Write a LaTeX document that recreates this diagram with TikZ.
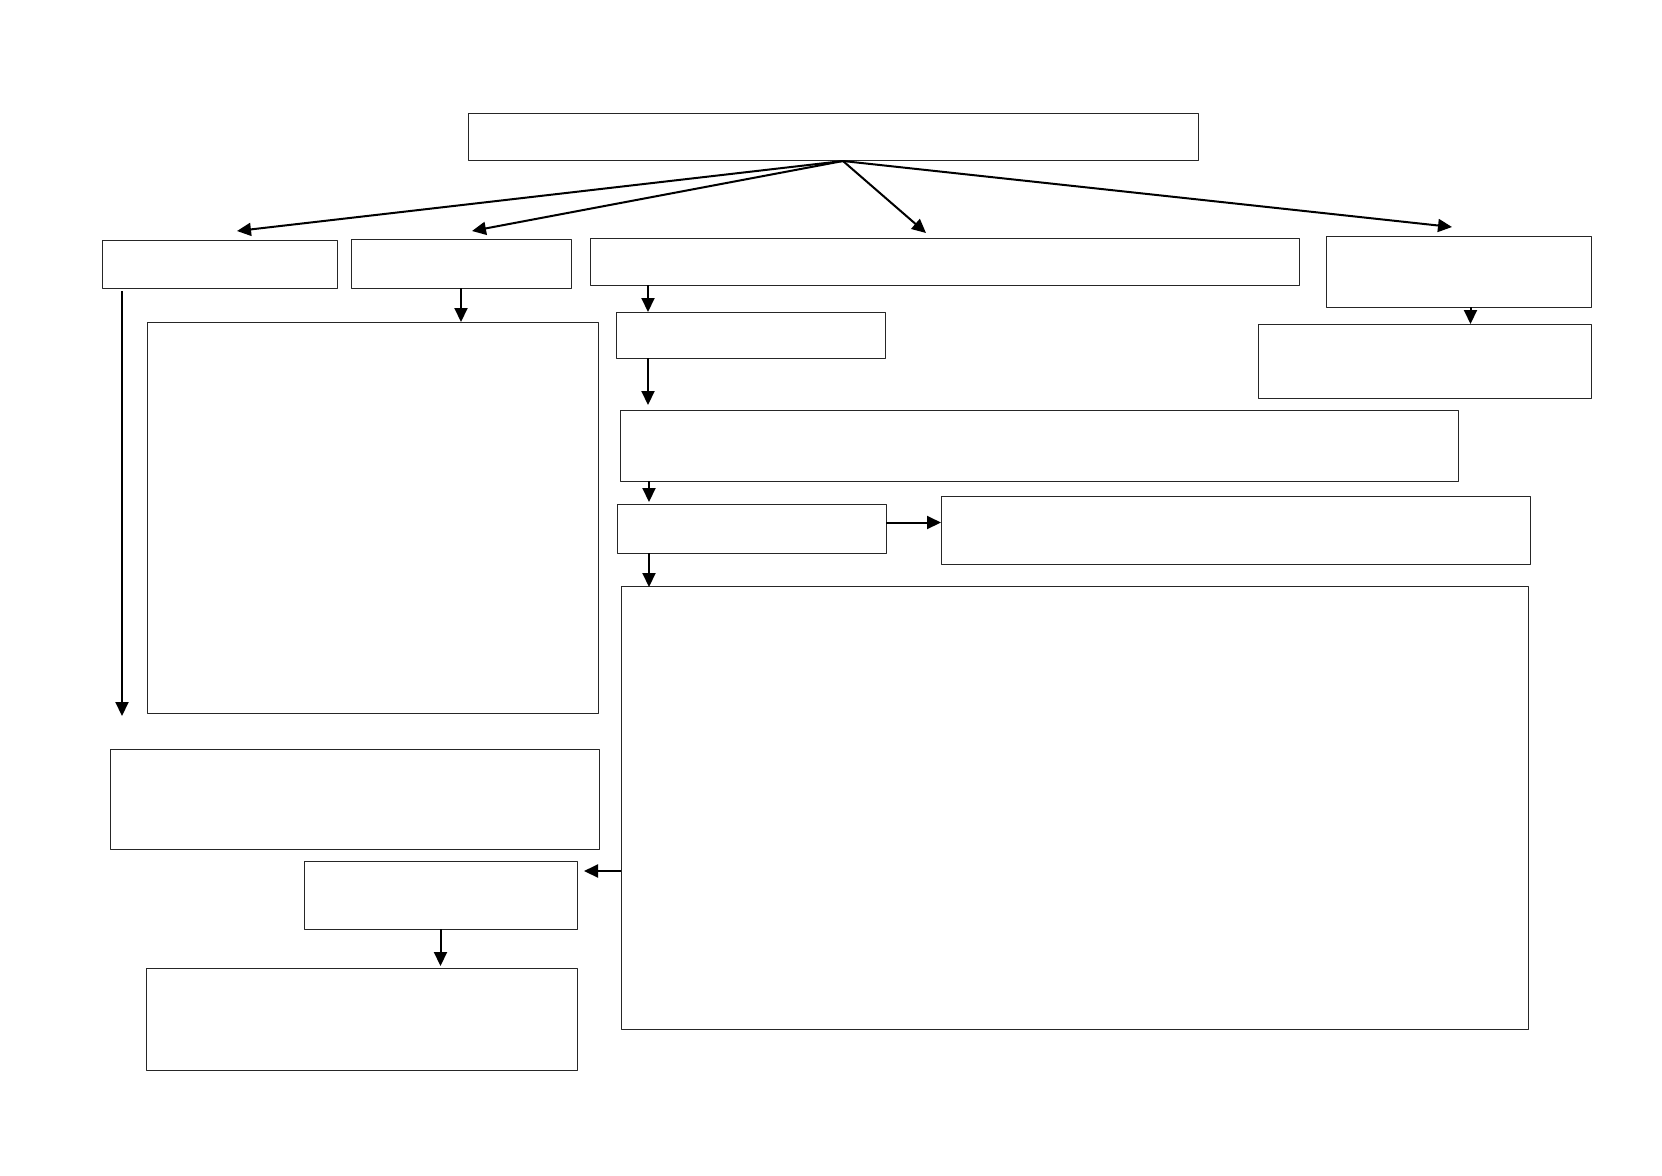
\documentclass[tikz,border=0pt]{standalone}
\usetikzlibrary{arrows.meta,calc}
\begin{document}
\begin{tikzpicture}[x=0.5pt, y=-0.5pt, line join=round, >={Triangle[length=7pt,width=6.5pt]},
	pbox/.style 2 args={draw=black!85, line width=0.45pt, anchor=north west, inner sep=0pt, outer sep=0pt, minimum width=#1*0.5pt, minimum height=#2*0.5pt},
	arr/.style={->, line width=1pt}]
				\useasboundingbox (0,0) rectangle (1662,1175);
				\node[pbox={730}{47}] (top) at (468,113) {};
				\node[pbox={235}{48}] (A) at (102,240) {};
				\node[pbox={220}{49}] (B) at (351,239) {};
				\node[pbox={709}{47}] (C) at (590,238) {};
				\node[pbox={265}{71}] (D) at (1326,236) {};
				\node[pbox={333}{74}] (D2) at (1258,324) {};
				\node[pbox={451}{391}] (E) at (147,322) {};
				\node[pbox={269}{46}] (F) at (616,312) {};
				\node[pbox={838}{71}] (G) at (620,410) {};
				\node[pbox={269}{49}] (H) at (617,504) {};
				\node[pbox={589}{68}] (I) at (941,496) {};
				\node[pbox={907}{443}] (J) at (621,586) {};
				\node[pbox={489}{100}] (K) at (110,749) {};
				\node[pbox={273}{68}] (L) at (304,861) {};
				\node[pbox={431}{102}] (M) at (146,968) {};
				\coordinate (apex) at (843,161);
				\draw[arr] (apex) -- ($(A.north)+(17.5,-9)$);
				\draw[arr] (apex) -- ($(B.north)+(11,-8)$);
				\draw[arr] (apex) -- ($(C.north)+(-18.5,-5)$);
				\draw[arr] (apex) -- ($(D.north)+(-6.5,-9)$);
				\coordinate (Aend) at ($(A.south west)+(20,428)$);
				\draw[arr] ($(A.south west)+(20,3)$) -- (Aend);
				\draw[arr] (B.south) -- (B.south |- E.north);
				\draw[arr] ([xshift=6pt]D.south) -- ([xshift=6pt]D.south |- D2.north);
				\draw[arr] ([xshift=16pt]F.north west |- C.south) -- ([xshift=16pt]F.north west);
				\draw[arr] ([xshift=16pt]F.south west) -- ($(F.south west |- G.north)+(32,-5)$);
				\draw[arr] ([xshift=16pt]H.north west |- G.south) -- ($(H.north west)+(32,-2)$);
				\draw[arr] ([yshift=3pt]H.east) -- ([yshift=3pt]H.east -| I.west);
				\draw[arr] ([xshift=16pt]H.south west) -- ($(H.south west |- J.north)+(32,1)$);
				\coordinate (JL) at ($(L.north east)+(7,10)$);
				\draw[arr] (J.west |- JL) -- (JL);
				\draw[arr] (L.south) -- ($(L.south |- M.north)+(0,-2)$);
			\end{tikzpicture}
\end{document}
